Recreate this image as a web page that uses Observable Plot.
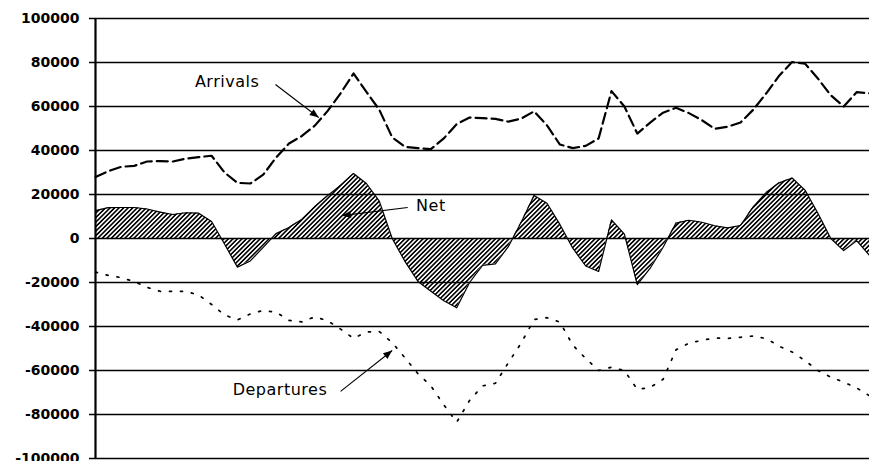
<!DOCTYPE html>
<html><head><meta charset="utf-8">
<script src="https://cdn.jsdelivr.net/npm/d3@7"></script>
<script src="https://cdn.jsdelivr.net/npm/@observablehq/plot@0.6"></script>
<style>
body{margin:0;background:#fff;}
#chart svg{display:block}
#chart g[aria-label="text"] text{letter-spacing:0.5px}
</style></head><body><div id="chart"></div>
<script>
// Arrivals (positive), Departures (negative), Net, one value per period
const arrivals = [28000,30600,32600,33000,35000,35200,35000,36300,37000,37600,
  30000,25300,25000,29000,36800,43200,46600,51300,58000,66000,
  75000,66700,58500,46000,41600,41100,40600,45500,52000,55000,
  54700,54400,53100,54500,57800,51400,42700,41100,42100,45500,
  67000,60000,47700,52700,57200,59400,57000,53800,49900,50800,
  52700,58600,66000,74000,80200,79500,72700,65100,60000,66500,66000];
const departures = [-15300,-16800,-17800,-19600,-22200,-24000,-24000,-24000,-25700,-30000,
  -34700,-37000,-34300,-32700,-33500,-37200,-37900,-35600,-37400,-41200,
  -45400,-42500,-42300,-47300,-54300,-61500,-67000,-75600,-83500,-73600,
  -67000,-65800,-56500,-47500,-36800,-36000,-38000,-48500,-54500,-60000,
  -58500,-60000,-68600,-67700,-64000,-50600,-47600,-46300,-45200,-45400,
  -44900,-44300,-45500,-49000,-51600,-55500,-60000,-63000,-65300,-67900,-71500];
const net = [12700,14000,14100,14100,13400,12000,10900,11700,11500,7700,
  -2500,-13000,-10200,-4000,2200,5000,8800,14500,19500,24200,
  29500,25000,17000,0,-10500,-19500,-24000,-28300,-31500,-20000,
  -12200,-11500,-3700,7400,19500,16000,6400,-4400,-12500,-15000,
  8500,2000,-21000,-13500,-4000,7000,8300,7400,5800,4800,
  5900,14500,21000,25300,27500,22000,11500,0,-5500,-1000,-7700];
const yTicks = [-100000,-80000,-60000,-40000,-20000,0,20000,40000,60000,80000,100000];

// annotation labels (centre positions) and leader arrows, in data coordinates (period index, value)
const labels = [
  {text:"Arrivals", x:10.2, y:71000},
  {text:"Net", x:26.0, y:15000},
  {text:"Departures", x:14.3, y:-68600}
];
const arrows = [
  {x1:13.95, y1:70000, x2:17.3, y2:55000},
  {x1:24.2, y1:14100, x2:19.1, y2:10400},
  {x1:19.0, y1:-69500, x2:23.0, y2:-50900}
];

const data = arrivals.map((a, i) => ({i, arrivals: a, departures: departures[i], net: net[i]}));

const svg = Plot.plot({
  width: 869, height: 461,
  marginLeft: 95, marginRight: 0, marginTop: 18, marginBottom: 3,
  x: {domain: [0, 60], axis: null},
  y: {domain: [-100000, 100000], axis: null},
  style: {fontFamily: "DejaVu Sans", color: "#000", background: "#fff", overflow: "visible"},
  marks: [
    Plot.ruleY(yTicks, {stroke: "#000", strokeWidth: 1.5}),
    Plot.axisY({ticks: yTicks, tickFormat: d => String(d), tickSize: 6, tickPadding: 10,
      fontSize: 14, fontWeight: "bold", strokeWidth: 1.5, label: null}),
    Plot.areaY(data, {x: "i", y: "net", fill: "url(#hatch)", curve: "linear"}),
    Plot.lineY(data, {x: "i", y: "net", stroke: "#000", strokeWidth: 1.2}),
    Plot.lineY(data, {x: "i", y: "arrivals", stroke: "#000", strokeWidth: 2.2, strokeDasharray: "11,5"}),
    Plot.lineY(data, {x: "i", y: "departures", stroke: "#000", strokeWidth: 1.7, strokeDasharray: "2,9"}),
    Plot.ruleX([0], {y1: -100000, y2: 100000, stroke: "#000", strokeWidth: 2.2}),
    Plot.link(arrows, {x1: "x1", y1: "y1", x2: "x2", y2: "y2", stroke: "#000", strokeWidth: 1.1}),
    Plot.text(labels, {x: "x", y: "y", text: "text", fontSize: 16, fill: "#000"})
  ]
});

const defs = d3.select(svg).insert("defs", ":first-child");
const pat = defs.append("pattern").attr("id", "hatch").attr("patternUnits", "userSpaceOnUse")
  .attr("width", 3.2).attr("height", 3.2).attr("patternTransform", "rotate(45)");
pat.append("rect").attr("width", 1.6).attr("height", 3.2).attr("fill", "#000");
const mk = defs.append("marker").attr("id", "ah").attr("viewBox", "0 0 10 10")
  .attr("refX", 10).attr("refY", 5).attr("markerWidth", 10).attr("markerHeight", 9)
  .attr("markerUnits", "userSpaceOnUse").attr("orient", "auto");
mk.append("path").attr("d", "M0,1L10,5L0,9Z").attr("fill", "#000");
d3.select(svg).selectAll('g[aria-label="link"] path').attr("marker-end", "url(#ah)");

document.getElementById("chart").appendChild(svg);
</script></body></html>
